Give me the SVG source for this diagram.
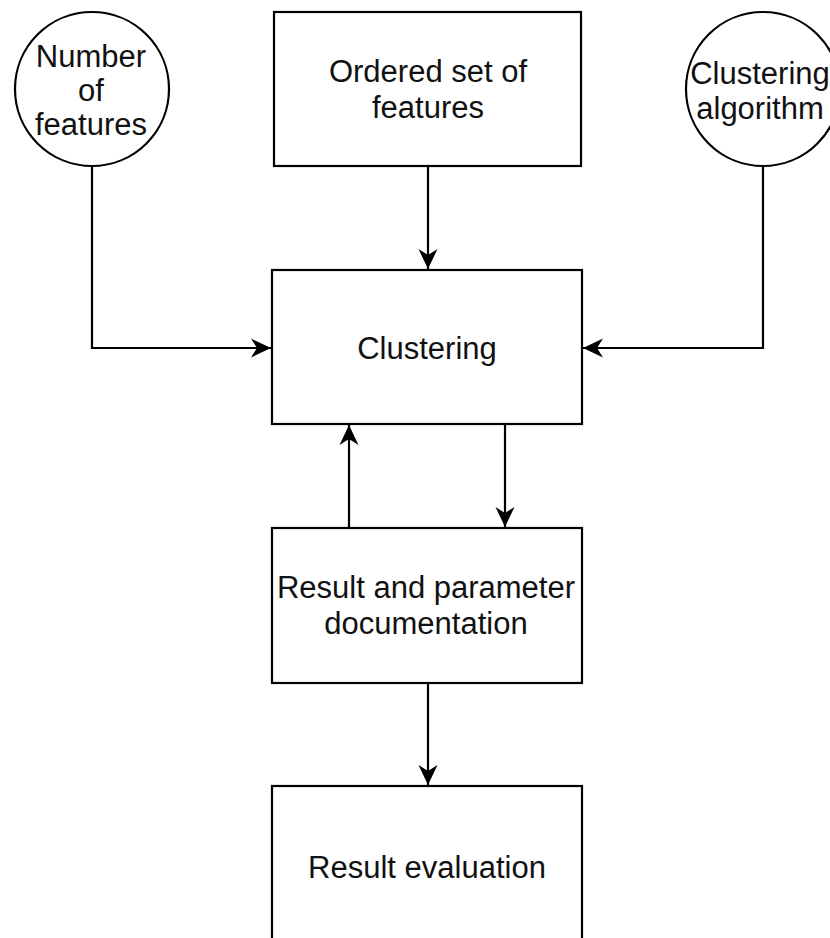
<svg xmlns="http://www.w3.org/2000/svg" width="830" height="938" viewBox="0 0 830 938">
<style>
.n{fill:#fff;stroke:#000;stroke-width:2.2}
.t{font-family:"Liberation Sans",Arial,Helvetica,sans-serif;font-size:31px;fill:#111;text-anchor:middle}
.c{fill:none;stroke:#000;stroke-width:2.2}
</style>
<defs>
<marker id="a" viewBox="-21 -11 22 22" refX="0" refY="0" markerWidth="22" markerHeight="22" markerUnits="userSpaceOnUse" orient="auto">
<path d="M0,0 L-20,-9.5 L-14,0 L-20,9.5 Z" fill="#000"/>
</marker>
</defs>
<rect width="830" height="938" fill="#fff"/>
<g id="connectors">
<path class="c" d="M428,166 V269" marker-end="url(#a)"/>
<path class="c" d="M92,166 V348 H271" marker-end="url(#a)"/>
<path class="c" d="M763,166 V348 H583" marker-end="url(#a)"/>
<path class="c" d="M349,528 V425" marker-end="url(#a)"/>
<path class="c" d="M505,424 V527" marker-end="url(#a)"/>
<path class="c" d="M428,683 V785" marker-end="url(#a)"/>
</g>
<g id="n-number">
<circle class="n" cx="92" cy="89" r="77"/>
<text class="t" x="91" y="67">Number</text>
<text class="t" x="91" y="101">of</text>
<text class="t" x="91" y="135">features</text>
</g>
<g id="n-ordered">
<rect class="n" x="274" y="12" width="307" height="154"/>
<text class="t" x="428" y="82">Ordered set of</text>
<text class="t" x="428" y="118">features</text>
</g>
<g id="n-algorithm">
<circle class="n" cx="763" cy="89" r="77"/>
<text class="t" x="760" y="84">Clustering</text>
<text class="t" x="760" y="119">algorithm</text>
</g>
<g id="n-clustering">
<rect class="n" x="272" y="270" width="310" height="154"/>
<text class="t" x="427" y="359">Clustering</text>
</g>
<g id="n-result">
<rect class="n" x="272" y="528" width="310" height="155"/>
<text class="t" x="426" y="598">Result and parameter</text>
<text class="t" x="426" y="634">documentation</text>
</g>
<g id="n-eval">
<rect class="n" x="272" y="786" width="310" height="160"/>
<text class="t" x="427" y="878">Result evaluation</text>
</g>
</svg>
